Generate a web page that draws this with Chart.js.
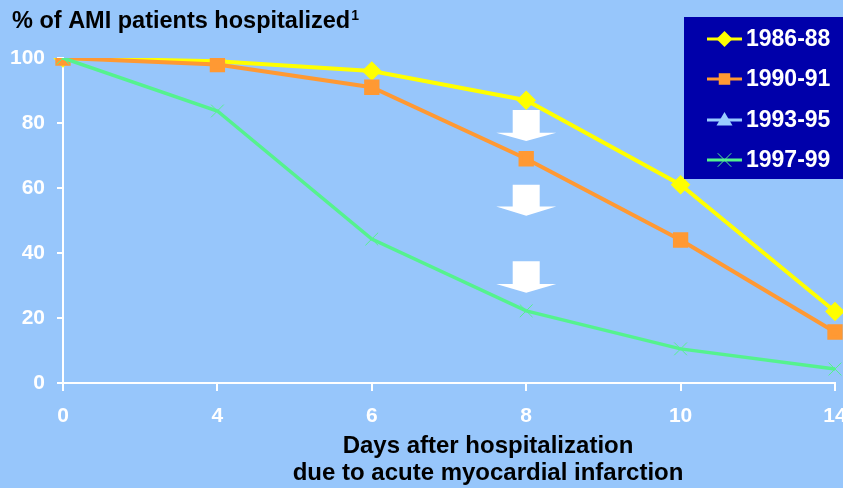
<!DOCTYPE html>
<html>
<head>
<meta charset="utf-8">
<script src="https://cdn.jsdelivr.net/npm/chart.js@4.4.1/dist/chart.umd.min.js"></script>
<style>
  html, body { margin: 0; padding: 0; background: #97C6FB; overflow: hidden; }
  #wrap { width: 843px; height: 488px; position: relative; }
</style>
</head>
<body>
<div id="wrap"><canvas id="c" width="843" height="488"></canvas></div>
<script>
// Days after hospitalization (category ticks)
const days = ['0', '4', '6', '8', '10', '14'];

// % of AMI patients still hospitalized, per period
const p1986_88 = [100, 99, 96, 87, 61, 22];
const p1990_91 = [100, 98, 91, 69, 44, 15.7];
const p1993_95 = [null, null, null, null, null, null];
const p1997_99 = [100, 83.7, 44.3, 22.2, 10.5, 4.3];

const seriesNames = ['1986-88', '1990-91', '1993-95', '1997-99'];

// Downward arrows at day 8 (top of stem / start of head / tip, in % units)
const arrows = [
  { top: 84, head: 77, tip: 74.5 },
  { top: 61, head: 54.3, tip: 51.5 },
  { top: 37.5, head: 30.5, tip: 27.8 }
];

const BG = '#97C6FB';
const FONT = 'Arial, "Liberation Sans", sans-serif';

const bgPlugin = {
  id: 'bg',
  beforeDraw(chart) {
    const ctx = chart.ctx;
    ctx.save();
    ctx.fillStyle = BG;
    ctx.fillRect(0, 0, chart.width, chart.height);
    ctx.restore();
  }
};

const arrowPlugin = {
  id: 'arrows',
  beforeDatasetsDraw(chart) {
    const ctx = chart.ctx;
    const xs = chart.scales.x, ys = chart.scales.y;
    const cx = xs.getPixelForValue(3);
    ctx.save();
    ctx.fillStyle = '#ffffff';
    arrows.forEach(a => {
      const t = ys.getPixelForValue(a.top);
      const h = ys.getPixelForValue(a.head);
      const p = ys.getPixelForValue(a.tip);
      ctx.beginPath();
      ctx.moveTo(cx - 13.5, t);
      ctx.lineTo(cx + 13.5, t);
      ctx.lineTo(cx + 13.5, h);
      ctx.lineTo(cx + 30, h);
      ctx.lineTo(cx, p);
      ctx.lineTo(cx - 30, h);
      ctx.lineTo(cx - 13.5, h);
      ctx.closePath();
      ctx.fill();
    });
    ctx.restore();
  }
};

function drawMarker(ctx, style, x, y, r, color) {
  ctx.save();
  ctx.fillStyle = color;
  ctx.strokeStyle = color;
  ctx.beginPath();
  if (style === 'rectRot') {
    ctx.moveTo(x, y - r); ctx.lineTo(x + r, y); ctx.lineTo(x, y + r); ctx.lineTo(x - r, y);
    ctx.closePath(); ctx.fill();
  } else if (style === 'rect') {
    ctx.fillRect(x - r * 0.72, y - r * 0.72, r * 1.44, r * 1.44);
  } else if (style === 'triangle') {
    ctx.moveTo(x, y - r); ctx.lineTo(x + r, y + r * 0.7); ctx.lineTo(x - r, y + r * 0.7);
    ctx.closePath(); ctx.fill();
  } else if (style === 'crossRot') {
    ctx.lineWidth = 1;
    const d = r * 0.75;
    ctx.moveTo(x - d, y - d); ctx.lineTo(x + d, y + d);
    ctx.moveTo(x + d, y - d); ctx.lineTo(x - d, y + d);
    ctx.stroke();
  }
  ctx.restore();
}

const textPlugin = {
  id: 'texts',
  afterDraw(chart) {
    const ctx = chart.ctx;
    ctx.save();
    // heading
    ctx.fillStyle = '#000000';
    ctx.textBaseline = 'alphabetic';
    ctx.textAlign = 'left';
    ctx.font = 'bold 23.5px ' + FONT;
    const head = '% of AMI patients hospitalized';
    ctx.fillText(head, 12, 28);
    const w = ctx.measureText(head).width;
    ctx.font = 'bold 14px ' + FONT;
    ctx.fillText('1', 12 + w + 1, 20);

    // x-axis title
    ctx.font = 'bold 24px ' + FONT;
    ctx.textAlign = 'center';
    ctx.textBaseline = 'middle';
    ctx.fillText('Days after hospitalization', 488, 446);
    ctx.fillText('due to acute myocardial infarction', 488, 473);

    // legend box
    ctx.fillStyle = '#0000AA';
    ctx.fillRect(684, 17, 159, 162);
    const rows = [39, 79, 120, 160];
    chart.data.datasets.forEach((ds, i) => {
      const y = rows[i];
      ctx.strokeStyle = ds.borderColor;
      ctx.lineWidth = 3;
      ctx.beginPath();
      ctx.moveTo(707, y);
      ctx.lineTo(742, y);
      ctx.stroke();
      drawMarker(ctx, ds.pointStyle, 724.5, y, ds.pointStyle === 'crossRot' ? 9 : 8, ds.pointBackgroundColor);
      ctx.fillStyle = '#ffffff';
      ctx.font = 'bold 23px ' + FONT;
      ctx.textAlign = 'left';
      ctx.textBaseline = 'middle';
      ctx.fillText(seriesNames[i], 746, y + 1);
    });
    ctx.restore();
  }
};

new Chart(document.getElementById('c'), {
  type: 'line',
  data: {
    labels: days,
    datasets: [
      { label: seriesNames[0], data: p1986_88, borderColor: '#FFFF00', backgroundColor: '#FFFF00', order: 4,
        pointBackgroundColor: '#FFFF00', pointBorderColor: '#FFFF00', pointStyle: 'rectRot', pointRadius: 7, borderWidth: 4 },
      { label: seriesNames[1], data: p1990_91, borderColor: '#FF9933', backgroundColor: '#FF9933', order: 3,
        pointBackgroundColor: '#FF9933', pointBorderColor: '#FF9933', pointStyle: 'rect', pointRadius: 8, borderWidth: 4 },
      { label: seriesNames[2], data: p1993_95, borderColor: '#99CCFF', backgroundColor: '#99CCFF', order: 2,
        pointBackgroundColor: '#99CCFF', pointBorderColor: '#99CCFF', pointStyle: 'triangle', pointRadius: 7, borderWidth: 4 },
      { label: seriesNames[3], data: p1997_99, borderColor: '#55F28E', backgroundColor: '#55F28E', order: 1,
        pointBackgroundColor: '#55F28E', pointBorderColor: '#55F28E', pointStyle: 'crossRot', pointRadius: 9,
        pointBorderWidth: 1, borderWidth: 3.5 }
    ]
  },
  options: {
    responsive: false,
    animation: false,
    layout: { autoPadding: false, padding: { top: 58, right: 8, left: 0, bottom: 0 } },
    plugins: { legend: { display: false }, tooltip: { enabled: false } },
    elements: { line: { tension: 0 } },
    scales: {
      x: {
        type: 'category',
        offset: false,
        border: { color: '#ffffff', width: 2 },
        grid: { drawOnChartArea: false, drawTicks: true, tickLength: 8, color: '#ffffff', lineWidth: 2 },
        ticks: { color: '#ffffff', font: { family: FONT, size: 21, weight: 'bold' }, padding: 13, maxRotation: 0, autoSkip: false },
        afterFit(s) { s.height = 105; s.paddingLeft = 0; s.paddingRight = 0; }
      },
      y: {
        min: 0, max: 100,
        border: { color: '#ffffff', width: 2 },
        grid: { drawOnChartArea: false, drawTicks: true, tickLength: 6, color: '#ffffff', lineWidth: 2 },
        ticks: { stepSize: 20, color: '#ffffff', font: { family: FONT, size: 21, weight: 'bold' }, padding: 12 },
        afterFit(s) { s.width = 63; s.paddingTop = 0; s.paddingBottom = 0; }
      }
    }
  },
  plugins: [bgPlugin, arrowPlugin, textPlugin]
});
</script>
</body>
</html>
